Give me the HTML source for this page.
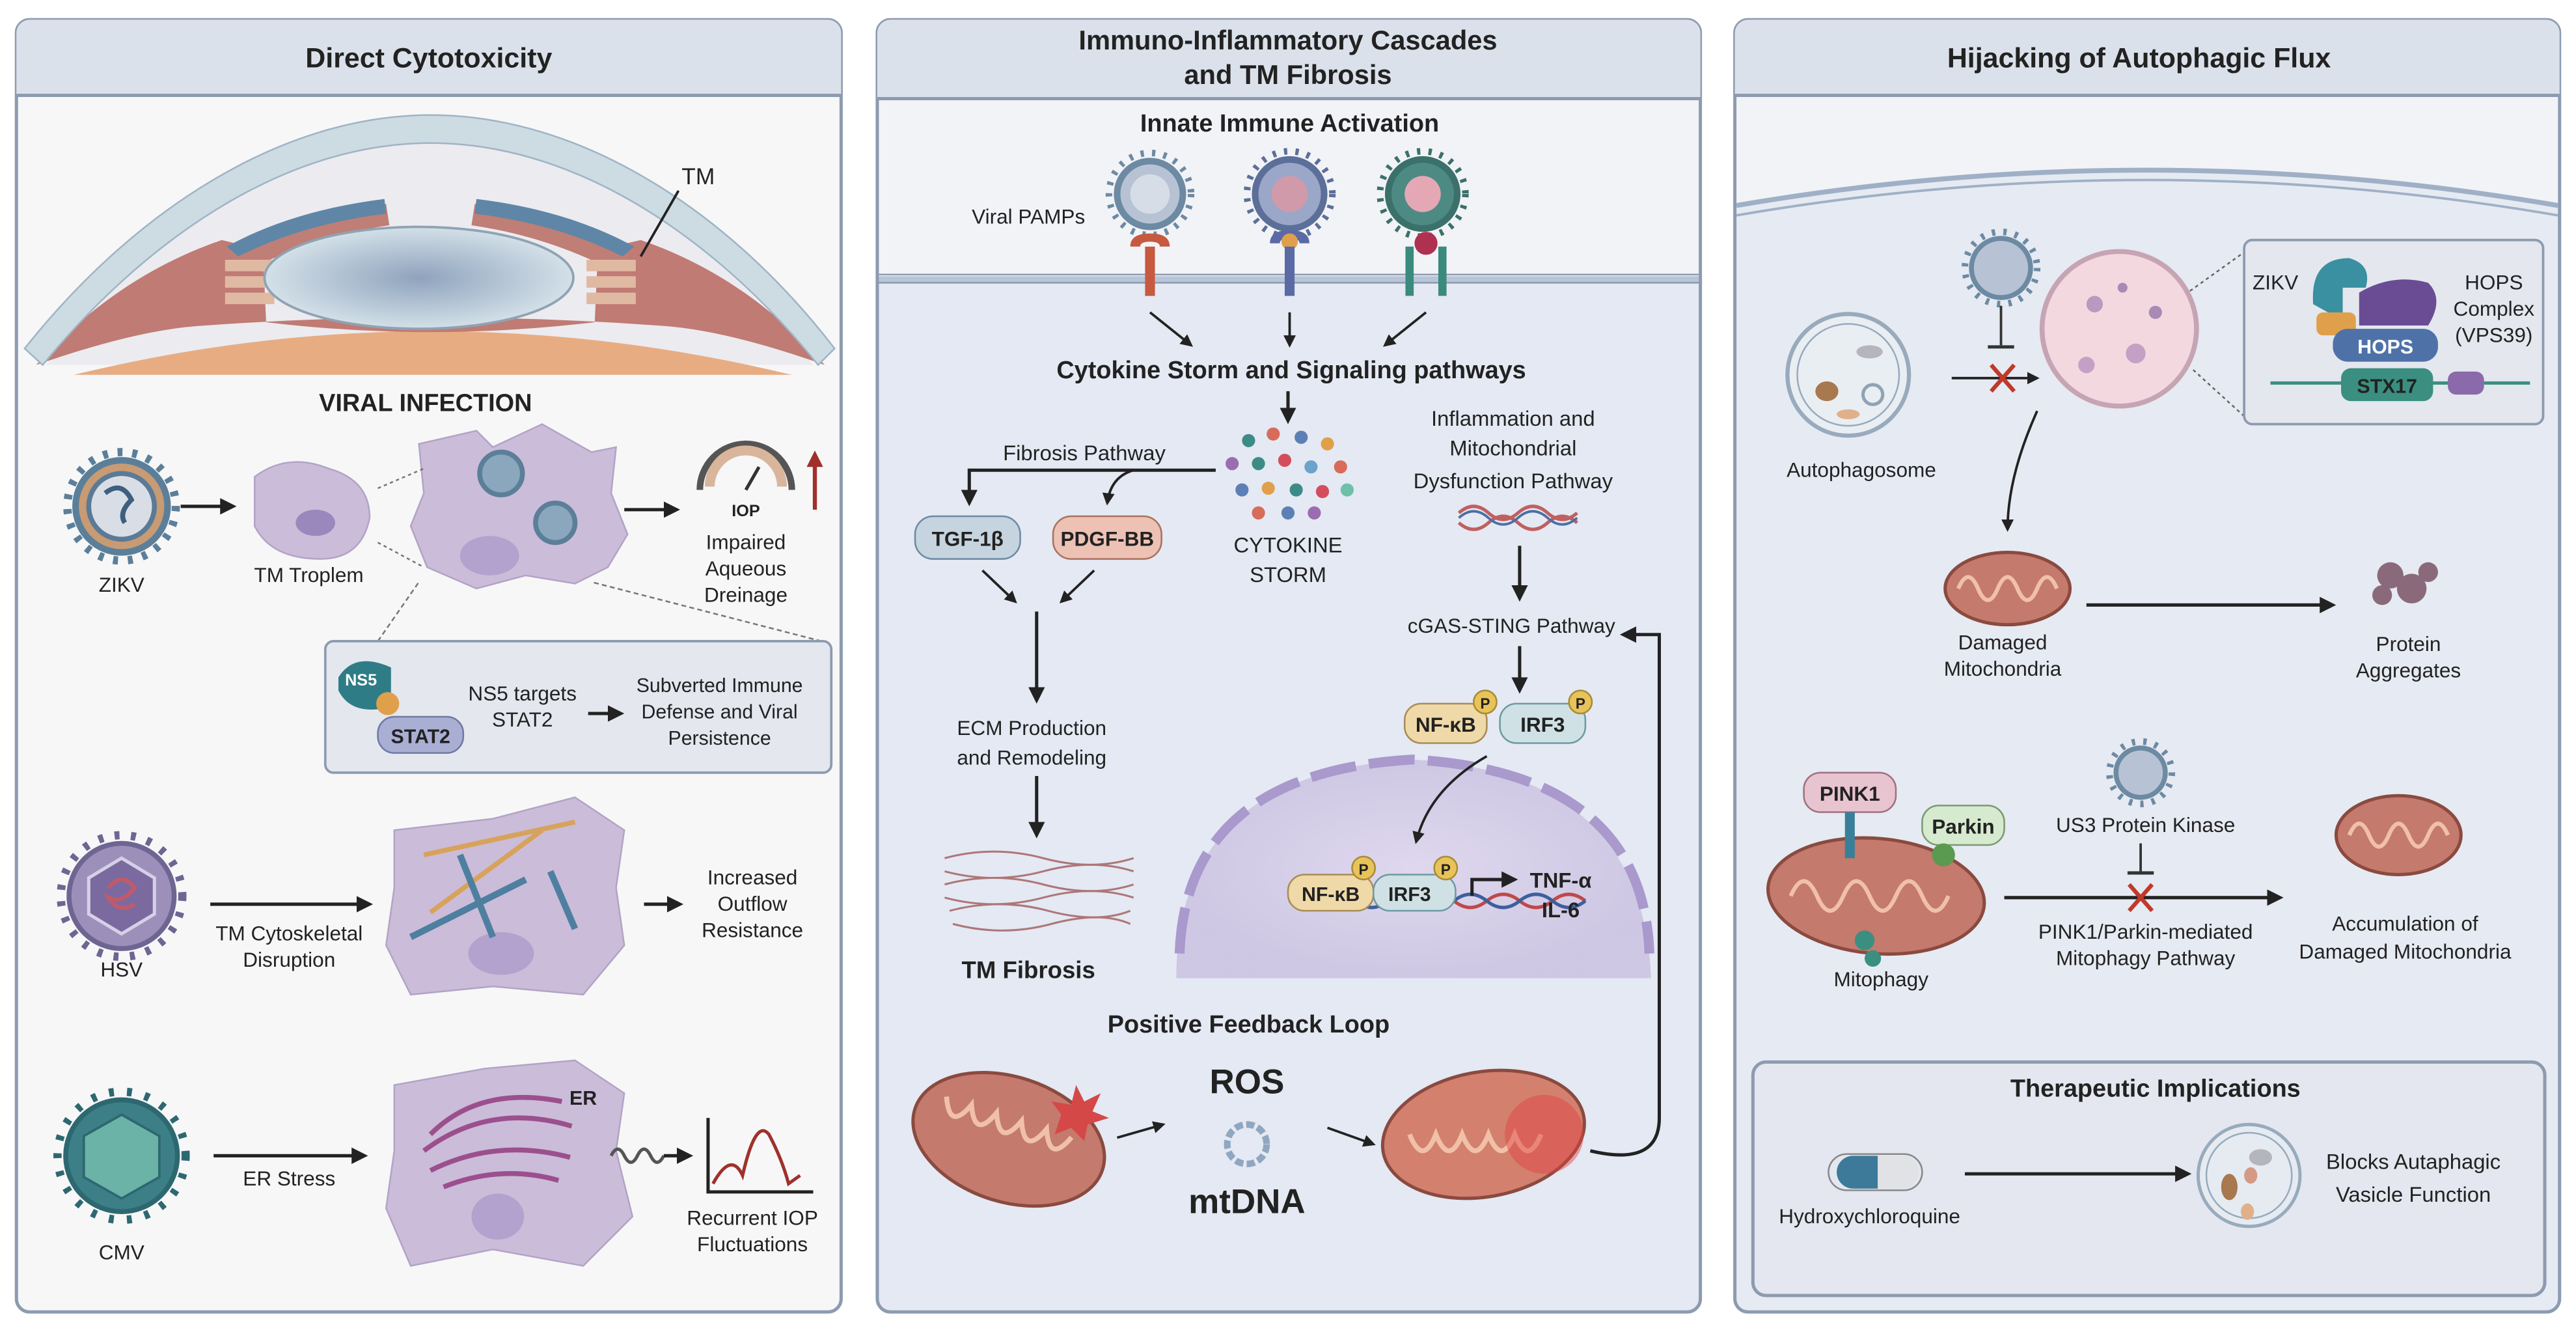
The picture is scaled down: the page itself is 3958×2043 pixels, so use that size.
<!DOCTYPE html>
<html><head><meta charset="utf-8"><style>
html,body{margin:0;padding:0;background:#fff;}
svg{display:block;}
text{font-family:"Liberation Sans",Arial,sans-serif;fill:#222;}
.b{font-weight:bold;}
</style></head><body>
<svg width="3958" height="2043" viewBox="0 0 1568 809" preserveAspectRatio="none" xmlns="http://www.w3.org/2000/svg">
<defs>
<marker id="ar" viewBox="0 0 10 10" refX="8" refY="5" markerWidth="5" markerHeight="5" orient="auto"><path d="M0,0L10,5L0,10z" fill="#222"/></marker>
<radialGradient id="lens"><stop offset="0" stop-color="#8fa3bd"/><stop offset="1" stop-color="#d3e0e8"/></radialGradient>
<radialGradient id="nuc"><stop offset="0" stop-color="#ddd3ec"/><stop offset="1" stop-color="#c8bfe0"/></radialGradient>
</defs>
<rect width="1568" height="809" fill="#fff"/>

<!-- ============ LEFT PANEL ============ -->
<rect x="10" y="12" width="502" height="786" rx="8" fill="#f7f7f8" stroke="#8d9bb0" stroke-width="2"/>
<path d="M10,58 V20 a8,8 0 0 1 8,-8 H504 a8,8 0 0 1 8,8 V58z" fill="#dbe1ea"/>
<line x1="10" y1="58" x2="512" y2="58" stroke="#8d9bb0" stroke-width="2"/>
<text x="261" y="41" font-size="17" text-anchor="middle" class="b">Direct Cytotoxicity</text>

<!-- eye -->
<path d="M28,222 C85,150 170,87 262,87 C355,87 440,150 495,222z" fill="#ecebf0"/>
<path d="M45,228 Q262,175 482,228z" fill="#e8ac82"/>
<path d="M22,222 C60,180 100,158 135,146 L160,152 L162,196 Q262,208 362,196 L364,152 L390,146 C425,158 465,180 502,222 Q440,200 400,198 Q262,188 125,198 Q85,200 22,222z" fill="#c07b74"/>
<path d="M15,212 C80,130 170,70 262,70 C355,70 445,130 508,212 L498,222 C440,150 355,87 262,87 C170,87 85,150 26,222z" fill="#cddbe3" stroke="#9fb4c4"/>
<path d="M138,152 Q180,130 235,124 L237,137 Q190,144 150,165z" fill="#bf7e76"/>
<path d="M138,150 Q178,128 234,121 L235,130 Q185,136 145,156z" fill="#5f86a6"/>
<path d="M386,152 Q344,130 289,124 L287,137 Q334,144 374,165z" fill="#bf7e76"/>
<path d="M386,150 Q346,128 290,121 L289,130 Q339,136 379,156z" fill="#5f86a6"/>
<g fill="#e0b9a3"><rect x="137" y="158" width="30" height="7"/><rect x="137" y="168" width="30" height="7"/><rect x="137" y="178" width="30" height="7"/><rect x="357" y="158" width="30" height="7"/><rect x="357" y="168" width="30" height="7"/><rect x="357" y="178" width="30" height="7"/></g>
<ellipse cx="255" cy="169" rx="94" ry="31" fill="url(#lens)" stroke="#8fa3b3" stroke-width="1.5"/>
<text x="425" y="112" font-size="14" text-anchor="middle">TM</text>
<line x1="413" y1="116" x2="390" y2="156" stroke="#222" stroke-width="1.5"/>

<text x="259" y="250" font-size="15" text-anchor="middle" class="b">VIRAL INFECTION</text>

<!-- ZIKV -->
<circle cx="74" cy="308" r="33" fill="none" stroke="#5c7f99" stroke-width="5" stroke-dasharray="3,6"/>
<circle cx="74" cy="308" r="28" fill="#c79b74" stroke="#5c7f99" stroke-width="4"/>
<circle cx="74" cy="308" r="20" fill="#d9dee6" stroke="#5b7a96" stroke-width="3"/>
<path d="M64,300 q10,-8 16,4 q-8,8 -4,14" fill="none" stroke="#3e5f80" stroke-width="3"/>
<text x="74" y="360" font-size="12.5" text-anchor="middle">ZIKV</text>
<line x1="110" y1="308" x2="142" y2="308" stroke="#222" stroke-width="2" marker-end="url(#ar)"/>
<path d="M155,290 Q175,275 200,285 Q225,292 225,315 Q220,340 195,340 Q165,340 155,320z" fill="#cbbcd9" stroke="#b2a4c6"/>
<ellipse cx="192" cy="318" rx="12" ry="8" fill="#9a88bd"/>
<text x="188" y="354" font-size="12.5" text-anchor="middle">TM Troplem</text>
<path d="M255,270 L290,262 L300,272 L330,258 L360,275 L375,272 L372,300 L382,325 L370,345 L350,355 L320,350 L290,358 L260,345 L250,320 L258,300z" fill="#cbbcd9" stroke="#b2a4c6"/>
<ellipse cx="298" cy="338" rx="18" ry="12" fill="#b3a2cd"/>
<circle cx="305" cy="288" r="13" fill="#8aa7bd" stroke="#5c7f99" stroke-width="3"/>
<circle cx="338" cy="318" r="12" fill="#8aa7bd" stroke="#5c7f99" stroke-width="3"/>
<line x1="230" y1="297" x2="258" y2="285" stroke="#777" stroke-dasharray="2,2"/>
<line x1="230" y1="330" x2="258" y2="345" stroke="#777" stroke-dasharray="2,2"/>
<line x1="380" y1="310" x2="412" y2="310" stroke="#222" stroke-width="2" marker-end="url(#ar)"/>
<path d="M426,298 A28,28 0 0 1 482,298" fill="none" stroke="#555" stroke-width="4"/>
<path d="M432,296 A22,22 0 0 1 476,296" fill="none" stroke="#d9b59c" stroke-width="6"/>
<line x1="454" y1="298" x2="462" y2="284" stroke="#333" stroke-width="2"/>
<text x="454" y="314" font-size="10" text-anchor="middle" class="b">IOP</text>
<line x1="496" y1="310" x2="496" y2="282" stroke="#a0302b" stroke-width="2.5"/>
<path d="M491,284 L496,274 L501,284z" fill="#a0302b"/>
<text x="454" y="334" font-size="12.5" text-anchor="middle">Impaired</text>
<text x="454" y="350" font-size="12.5" text-anchor="middle">Aqueous</text>
<text x="454" y="366" font-size="12.5" text-anchor="middle">Dreinage</text>
<line x1="230" y1="390" x2="255" y2="354" stroke="#777" stroke-dasharray="3,2"/>
<line x1="500" y1="390" x2="360" y2="354" stroke="#777" stroke-dasharray="3,2"/>
<rect x="198" y="390" width="308" height="80" rx="5" fill="#e4e7ee" stroke="#8d9bb0" stroke-width="1.5"/>
<path d="M206,412 q10,-16 32,-6 v24 q-24,6 -32,-10z" fill="#2e7c86"/>
<text x="210" y="417" font-size="10" class="b" style="fill:#fff">NS5</text>
<circle cx="236" cy="428" r="7" fill="#e0a04b"/>
<rect x="230" y="436" width="52" height="22" rx="10" fill="#a9aed3" stroke="#7078a6"/>
<text x="256" y="452" font-size="12" text-anchor="middle" class="b">STAT2</text>
<text x="318" y="426" font-size="12.5" text-anchor="middle">NS5 targets</text>
<text x="318" y="442" font-size="12.5" text-anchor="middle">STAT2</text>
<line x1="358" y1="434" x2="378" y2="434" stroke="#222" stroke-width="2" marker-end="url(#ar)"/>
<text x="438" y="421" font-size="12" text-anchor="middle">Subverted Immune</text>
<text x="438" y="437" font-size="12" text-anchor="middle">Defense and Viral</text>
<text x="438" y="453" font-size="12" text-anchor="middle">Persistence</text>

<!-- HSV -->
<circle cx="74" cy="545" r="37" fill="none" stroke="#6e6592" stroke-width="5" stroke-dasharray="3,7"/>
<circle cx="74" cy="545" r="32" fill="#9c8fba" stroke="#6e6592" stroke-width="3"/>
<polygon points="74,522 94,534 94,556 74,568 54,556 54,534" fill="#7a6aa0" stroke="#d6d0e6" stroke-width="2"/>
<path d="M66,540 q8,-10 16,0 q-8,10 -16,6 q6,10 16,4" fill="none" stroke="#c05a6a" stroke-width="2.5"/>
<text x="74" y="594" font-size="12.5" text-anchor="middle">HSV</text>
<line x1="128" y1="550" x2="225" y2="550" stroke="#222" stroke-width="2" marker-end="url(#ar)"/>
<text x="176" y="572" font-size="12.5" text-anchor="middle">TM Cytoskeletal</text>
<text x="176" y="588" font-size="12.5" text-anchor="middle">Disruption</text>
<path d="M240,505 L300,498 L350,485 L380,505 L375,540 L380,575 L355,605 L300,600 L250,605 L235,575 L240,540z" fill="#cbbcd9" stroke="#b2a4c6"/>
<ellipse cx="305" cy="580" rx="20" ry="13" fill="#b3a2cd"/>
<line x1="258" y1="520" x2="350" y2="500" stroke="#d7a35c" stroke-width="3"/>
<line x1="262" y1="555" x2="330" y2="505" stroke="#d7a35c" stroke-width="3"/>
<line x1="280" y1="520" x2="300" y2="570" stroke="#4e7fa0" stroke-width="4"/>
<line x1="250" y1="570" x2="320" y2="535" stroke="#4e7fa0" stroke-width="4"/>
<line x1="335" y1="530" x2="350" y2="565" stroke="#4e7fa0" stroke-width="4"/>
<line x1="392" y1="550" x2="414" y2="550" stroke="#222" stroke-width="2" marker-end="url(#ar)"/>
<text x="458" y="538" font-size="12.5" text-anchor="middle">Increased</text>
<text x="458" y="554" font-size="12.5" text-anchor="middle">Outflow</text>
<text x="458" y="570" font-size="12.5" text-anchor="middle">Resistance</text>

<!-- CMV -->
<circle cx="74" cy="703" r="39" fill="none" stroke="#2d6870" stroke-width="5" stroke-dasharray="3,8"/>
<circle cx="74" cy="703" r="34" fill="#3d7f86" stroke="#2d6870" stroke-width="3"/>
<polygon points="74,678 97,691 97,716 74,729 51,716 51,691" fill="#6bb3a7" stroke="#2d6870" stroke-width="1.5"/>
<text x="74" y="766" font-size="12.5" text-anchor="middle">CMV</text>
<line x1="130" y1="703" x2="222" y2="703" stroke="#222" stroke-width="2" marker-end="url(#ar)"/>
<text x="176" y="721" font-size="12.5" text-anchor="middle">ER Stress</text>
<path d="M240,660 L295,650 L350,645 L380,665 L375,700 L385,740 L355,770 L300,760 L250,770 L235,735 L240,700z" fill="#cbbcd9" stroke="#b2a4c6"/>
<path d="M262,690 q30,-30 80,-20 M258,700 q40,-30 90,-15 M262,712 q40,-20 85,-8 M270,722 q35,-14 70,-4" fill="none" stroke="#9c4f8d" stroke-width="3"/>
<ellipse cx="303" cy="740" rx="16" ry="14" fill="#b3a2cd"/>
<text x="355" y="672" font-size="12" class="b" text-anchor="middle">ER</text>
<path d="M372,703 q4,-8 8,0 q4,8 8,0 q4,-8 8,0 q4,8 8,0" fill="none" stroke="#555" stroke-width="2"/>
<line x1="404" y1="703" x2="420" y2="703" stroke="#222" stroke-width="2" marker-end="url(#ar)"/>
<polyline points="431,680 431,725 495,725" fill="none" stroke="#222" stroke-width="2"/>
<path d="M434,720 Q445,700 452,715 Q460,680 468,690 Q476,705 480,720 L487,715" fill="none" stroke="#a0302b" stroke-width="2"/>
<text x="458" y="745" font-size="12.5" text-anchor="middle">Recurrent IOP</text>
<text x="458" y="761" font-size="12.5" text-anchor="middle">Fluctuations</text>

<!-- ============ MIDDLE PANEL ============ -->
<rect x="534" y="12" width="501" height="786" rx="8" fill="#e4e9f3" stroke="#8d9bb0" stroke-width="2"/>
<path d="M534,60 V20 a8,8 0 0 1 8,-8 H1027 a8,8 0 0 1 8,8 V60z" fill="#dbe1ea"/>
<rect x="535" y="61" width="499" height="108" fill="#f2f3f7"/>
<line x1="534" y1="60" x2="1035" y2="60" stroke="#8d9bb0" stroke-width="2"/>
<text x="784" y="30" font-size="16.5" text-anchor="middle" class="b">Immuno-Inflammatory Cascades</text>
<text x="784" y="51" font-size="16.5" text-anchor="middle" class="b">and TM Fibrosis</text>
<text x="785" y="80" font-size="15" text-anchor="middle" class="b">Innate Immune Activation</text>
<rect x="535" y="168" width="499" height="4" fill="#b8c5d8"/>
<line x1="535" y1="172" x2="1034" y2="172" stroke="#8d9bb0"/>
<line x1="535" y1="167" x2="1034" y2="167" stroke="#8d9bb0"/>
<text x="626" y="136" font-size="12.5" text-anchor="middle">Viral PAMPs</text>
<circle cx="700" cy="118" r="25" fill="none" stroke="#6d8aa3" stroke-width="4" stroke-dasharray="2,5"/>
<circle cx="700" cy="118" r="20" fill="#b7c3d4" stroke="#6d8aa3" stroke-width="4"/>
<circle cx="700" cy="118" r="12" fill="#d6dde6"/>
<circle cx="785" cy="118" r="26" fill="none" stroke="#5c6f99" stroke-width="4" stroke-dasharray="2,5"/>
<circle cx="785" cy="118" r="21" fill="#9ba7c8" stroke="#5c6f99" stroke-width="4"/>
<circle cx="785" cy="118" r="11" fill="#d09aaa"/>
<circle cx="866" cy="118" r="26" fill="none" stroke="#3b706b" stroke-width="4" stroke-dasharray="2,5"/>
<circle cx="866" cy="118" r="21" fill="#4e8a84" stroke="#3b706b" stroke-width="4"/>
<circle cx="866" cy="118" r="11" fill="#e4a8b5"/>
<path d="M688,150 q0,-8 12,-8 q12,0 12,8 h-6 q0,-3 -6,-3 q-6,0 -6,3z" fill="#c6593f"/>
<rect x="697" y="150" width="6" height="30" fill="#c6593f"/>
<path d="M773,148 q0,-8 12,-8 q12,0 12,8 h-6 q0,-3 -6,-3 q-6,0 -6,3z" fill="#5b6aa5"/>
<circle cx="785" cy="147" r="5" fill="#e0a04b"/>
<rect x="782" y="150" width="6" height="30" fill="#5b6aa5"/>
<circle cx="868" cy="148" r="7" fill="#b03050"/>
<path d="M858,150 v30 M878,150 v30" stroke="#3b8a7e" stroke-width="5"/>
<line x1="700" y1="190" x2="725" y2="210" stroke="#222" stroke-width="1.5" marker-end="url(#ar)"/>
<line x1="785" y1="190" x2="785" y2="210" stroke="#222" stroke-width="1.5" marker-end="url(#ar)"/>
<line x1="868" y1="190" x2="843" y2="210" stroke="#222" stroke-width="1.5" marker-end="url(#ar)"/>
<text x="786" y="230" font-size="15" text-anchor="middle" class="b">Cytokine Storm and Signaling pathways</text>
<line x1="784" y1="238" x2="784" y2="256" stroke="#222" stroke-width="2" marker-end="url(#ar)"/>
<g>
<circle cx="760" cy="268" r="4" fill="#3d8b87"/><circle cx="775" cy="264" r="4" fill="#d86b5a"/><circle cx="792" cy="266" r="4" fill="#5c7fb5"/><circle cx="808" cy="270" r="4" fill="#e0a04b"/>
<circle cx="750" cy="282" r="4" fill="#9c6cb0"/><circle cx="766" cy="282" r="4" fill="#3d8b87"/><circle cx="782" cy="280" r="4" fill="#d44d5c"/><circle cx="798" cy="284" r="4" fill="#6ba3c9"/><circle cx="816" cy="284" r="4" fill="#d86b5a"/>
<circle cx="756" cy="298" r="4" fill="#5c7fb5"/><circle cx="772" cy="297" r="4" fill="#e0a04b"/><circle cx="789" cy="298" r="4" fill="#3d8b87"/><circle cx="805" cy="299" r="4" fill="#d44d5c"/><circle cx="820" cy="298" r="4" fill="#6fc0a8"/>
<circle cx="766" cy="312" r="4" fill="#d86b5a"/><circle cx="784" cy="312" r="4" fill="#5c7fb5"/><circle cx="800" cy="312" r="4" fill="#9c6cb0"/>
</g>
<text x="784" y="336" font-size="13" text-anchor="middle">CYTOKINE</text>
<text x="784" y="354" font-size="13" text-anchor="middle">STORM</text>
<text x="660" y="280" font-size="13" text-anchor="middle">Fibrosis Pathway</text>
<path d="M740,286 H590 V306" fill="none" stroke="#222" stroke-width="2" marker-end="url(#ar)"/>
<path d="M690,286 Q676,290 674,306" fill="none" stroke="#222" stroke-width="1.5" marker-end="url(#ar)"/>
<rect x="557" y="314" width="64" height="26" rx="11" fill="#c5d4de" stroke="#6d8aa3"/>
<text x="589" y="332" font-size="12.5" text-anchor="middle" class="b">TGF-1β</text>
<rect x="641" y="314" width="66" height="26" rx="11" fill="#edc2b5" stroke="#a9725f"/>
<text x="674" y="332" font-size="12.5" text-anchor="middle" class="b">PDGF-BB</text>
<line x1="598" y1="347" x2="618" y2="366" stroke="#222" stroke-width="1.5" marker-end="url(#ar)"/>
<line x1="666" y1="347" x2="646" y2="366" stroke="#222" stroke-width="1.5" marker-end="url(#ar)"/>
<line x1="631" y1="372" x2="631" y2="426" stroke="#222" stroke-width="2" marker-end="url(#ar)"/>
<text x="628" y="447" font-size="12.5" text-anchor="middle">ECM Production</text>
<text x="628" y="465" font-size="12.5" text-anchor="middle">and Remodeling</text>
<line x1="631" y1="472" x2="631" y2="508" stroke="#222" stroke-width="2" marker-end="url(#ar)"/>
<g stroke="#a05a5a" stroke-width="1.2" fill="none" opacity="0.8">
<path d="M575,522 q30,-8 60,0 t55,0"/><path d="M575,530 q30,8 60,0 t55,0"/><path d="M575,538 q30,-8 60,0 t55,0"/><path d="M575,546 q30,8 60,0 t55,0"/><path d="M578,554 q30,-8 60,0 t50,0"/><path d="M580,562 q30,8 60,0 t48,0"/>
</g>
<text x="626" y="595" font-size="14.5" text-anchor="middle" class="b">TM Fibrosis</text>
<text x="921" y="259" font-size="13" text-anchor="middle">Inflammation and</text>
<text x="921" y="277" font-size="13" text-anchor="middle">Mitochondrial</text>
<text x="921" y="297" font-size="13" text-anchor="middle">Dysfunction Pathway</text>
<path d="M888,312 q9,-8 18,0 t18,0 t18,0 t18,0 M888,318 q9,8 18,0 t18,0 t18,0 t18,0" fill="none" stroke="#c06060" stroke-width="2"/>
<path d="M888,315 q9,-8 18,0 t18,0 t18,0 t18,0" fill="none" stroke="#4a6fa5" stroke-width="1.5"/>
<line x1="925" y1="332" x2="925" y2="364" stroke="#222" stroke-width="2" marker-end="url(#ar)"/>
<text x="920" y="385" font-size="12.5" text-anchor="middle">cGAS-STING Pathway</text>
<line x1="925" y1="393" x2="925" y2="420" stroke="#222" stroke-width="2" marker-end="url(#ar)"/>
<!-- nucleus -->
<path d="M716,595 Q716,470 860,462 Q1000,470 1005,595z" fill="url(#nuc)" opacity="0.8"/>
<path d="M718,580 Q722,470 860,462 Q1000,470 1004,580" fill="none" stroke="#a999cc" stroke-width="6" stroke-dasharray="28,8"/>
<rect x="855" y="428" width="50" height="24" rx="10" fill="#f0d9a8" stroke="#a88c55"/>
<text x="880" y="445" font-size="12.5" text-anchor="middle" class="b">NF-κB</text>
<rect x="913" y="428" width="52" height="24" rx="10" fill="#cfe1e4" stroke="#6d9aa3"/>
<text x="939" y="445" font-size="12.5" text-anchor="middle" class="b">IRF3</text>
<circle cx="904" cy="427" r="7" fill="#e8c35a" stroke="#a88c35"/><text x="904" y="431" font-size="9" text-anchor="middle" class="b">P</text>
<circle cx="962" cy="427" r="7" fill="#e8c35a" stroke="#a88c35"/><text x="962" y="431" font-size="9" text-anchor="middle" class="b">P</text>
<path d="M905,460 Q870,480 862,512" fill="none" stroke="#222" stroke-width="1.5" marker-end="url(#ar)"/>
<path d="M785,548 q10,-8 20,0 t20,0 t20,0 t20,0 t20,0 t20,0 t20,0 t20,0 t20,0" fill="none" stroke="#c04848" stroke-width="2"/>
<path d="M785,548 q10,8 20,0 t20,0 t20,0 t20,0 t20,0 t20,0 t20,0 t20,0 t20,0" fill="none" stroke="#3d5f9c" stroke-width="2"/>
<rect x="784" y="532" width="52" height="22" rx="10" fill="#f0d9a8" stroke="#a88c55"/>
<text x="810" y="548" font-size="12" text-anchor="middle" class="b">NF-κB</text>
<rect x="836" y="532" width="50" height="22" rx="10" fill="#cfe1e4" stroke="#6d9aa3"/>
<text x="858" y="548" font-size="12" text-anchor="middle" class="b">IRF3</text>
<circle cx="830" cy="528" r="7" fill="#e8c35a" stroke="#a88c35"/><text x="830" y="532" font-size="9" text-anchor="middle" class="b">P</text>
<circle cx="880" cy="528" r="7" fill="#e8c35a" stroke="#a88c35"/><text x="880" y="532" font-size="9" text-anchor="middle" class="b">P</text>
<path d="M896,545 V535 H922" fill="none" stroke="#222" stroke-width="2" marker-end="url(#ar)"/>
<text x="950" y="540" font-size="13" text-anchor="middle" class="b">TNF-α</text>
<text x="950" y="558" font-size="13" text-anchor="middle" class="b">IL-6</text>
<text x="760" y="628" font-size="15" text-anchor="middle" class="b">Positive Feedback Loop</text>
<ellipse cx="614" cy="693" rx="60" ry="38" transform="rotate(18 614 693)" fill="#c47a6c" stroke="#8a4a40" stroke-width="2"/>
<path d="M570,680 q8,20 16,0 q8,20 16,0 q8,20 16,0 q8,20 16,0 q8,20 16,0" transform="rotate(18 614 693)" fill="none" stroke="#f0c0a8" stroke-width="3"/>
<polygon points="655,660 660,670 670,665 665,676 675,680 662,684 660,694 652,686 642,690 646,678 640,670 652,672" fill="#d44848"/>
<line x1="680" y1="692" x2="708" y2="684" stroke="#222" stroke-width="1.5" marker-end="url(#ar)"/>
<text x="759" y="665" font-size="21" text-anchor="middle" class="b">ROS</text>
<circle cx="759" cy="696" r="12" fill="none" stroke="#8fa7c0" stroke-width="4" stroke-dasharray="5,2"/>
<text x="759" y="738" font-size="21" text-anchor="middle" class="b">mtDNA</text>
<line x1="808" y1="686" x2="836" y2="696" stroke="#222" stroke-width="1.5" marker-end="url(#ar)"/>
<ellipse cx="903" cy="690" rx="62" ry="38" transform="rotate(-10 903 690)" fill="#d4806f" stroke="#8a4a40" stroke-width="2"/>
<path d="M858,690 q8,20 16,0 q8,20 16,0 q8,20 16,0 q8,20 16,0 q8,20 16,0" fill="none" stroke="#f0c0a8" stroke-width="3"/>
<circle cx="940" cy="690" r="24" fill="#e04040" opacity="0.45"/>
<path d="M968,700 Q1010,710 1010,680 V386 H988" fill="none" stroke="#222" stroke-width="2" marker-end="url(#ar)"/>

<!-- ============ RIGHT PANEL ============ -->
<rect x="1056" y="12" width="502" height="786" rx="8" fill="#e6eaf2" stroke="#8d9bb0" stroke-width="2"/>
<path d="M1056,58 V20 a8,8 0 0 1 8,-8 H1550 a8,8 0 0 1 8,8 V58z" fill="#dbe1ea"/>
<path d="M1057,59 H1557 V125 Q1307,82 1057,125z" fill="#f2f3f7"/>
<line x1="1056" y1="58" x2="1558" y2="58" stroke="#8d9bb0" stroke-width="2"/>
<path d="M1057,125 Q1307,82 1557,125" fill="none" stroke="#9fb0c6" stroke-width="3"/>
<path d="M1057,131 Q1307,88 1557,131" fill="none" stroke="#9fb0c6" stroke-width="1.5"/>
<text x="1302" y="41" font-size="17" text-anchor="middle" class="b">Hijacking of Autophagic Flux</text>
<circle cx="1125" cy="228" r="37" fill="#e9eef3" stroke="#98abbd" stroke-width="2.5"/>
<circle cx="1125" cy="228" r="31" fill="none" stroke="#98abbd"/>
<ellipse cx="1112" cy="238" rx="7" ry="6" fill="#a8784f"/><ellipse cx="1138" cy="214" rx="8" ry="4" fill="#b5b5bd"/><circle cx="1140" cy="240" r="6" fill="none" stroke="#8fa3b5" stroke-width="2"/><ellipse cx="1125" cy="252" rx="7" ry="3" fill="#e0b08a"/>
<text x="1133" y="290" font-size="12.5" text-anchor="middle">Autophagosome</text>
<circle cx="1218" cy="163" r="22" fill="none" stroke="#6d8aa3" stroke-width="4" stroke-dasharray="2,5"/>
<circle cx="1218" cy="163" r="18" fill="#b7c3d4" stroke="#6d8aa3" stroke-width="3"/>
<line x1="1218" y1="186" x2="1218" y2="210" stroke="#333" stroke-width="1.5"/>
<line x1="1210" y1="211" x2="1226" y2="211" stroke="#333" stroke-width="2"/>
<line x1="1188" y1="230" x2="1240" y2="230" stroke="#222" stroke-width="1.5" marker-end="url(#ar)"/>
<path d="M1212,222 L1226,238 M1226,222 L1212,238" stroke="#c0392b" stroke-width="2.5"/>
<circle cx="1290" cy="200" r="47" fill="#f3d8df" stroke="#c6a4b4" stroke-width="3"/>
<circle cx="1275" cy="185" r="5" fill="#b89ac0"/><circle cx="1300" cy="215" r="6" fill="#c4a0c6"/><circle cx="1312" cy="190" r="4" fill="#a98ab5"/><circle cx="1270" cy="222" r="5" fill="#c4a0c6"/><circle cx="1292" cy="175" r="3" fill="#a98ab5"/>
<line x1="1333" y1="177" x2="1368" y2="152" stroke="#666" stroke-dasharray="2,2"/>
<line x1="1335" y1="225" x2="1368" y2="255" stroke="#666" stroke-dasharray="2,2"/>
<rect x="1366" y="146" width="182" height="112" rx="5" fill="#e4e7ee" stroke="#8d9bb0" stroke-width="1.5"/>
<text x="1385" y="176" font-size="12.5" text-anchor="middle">ZIKV</text>
<path d="M1408,185 q-2,-28 22,-28 q14,4 10,18 h-14 v20z" fill="#3a8fa0"/>
<rect x="1410" y="190" width="24" height="14" rx="4" fill="#e0a04b"/>
<path d="M1436,178 q20,-12 42,-6 q10,10 0,26 h-42z" fill="#6a4c94"/>
<rect x="1420" y="200" width="64" height="20" rx="9" fill="#4e72a8"/>
<text x="1452" y="215" font-size="12" text-anchor="middle" class="b" style="fill:#fff">HOPS</text>
<line x1="1382" y1="233" x2="1540" y2="233" stroke="#3a8f80" stroke-width="2"/>
<rect x="1425" y="224" width="56" height="20" rx="6" fill="#3a8f80"/>
<text x="1453" y="239" font-size="12" text-anchor="middle" class="b">STX17</text>
<rect x="1490" y="226" width="22" height="14" rx="5" fill="#8a6aaa"/>
<text x="1518" y="176" font-size="12.5" text-anchor="middle">HOPS</text>
<text x="1518" y="192" font-size="12.5" text-anchor="middle">Complex</text>
<text x="1518" y="208" font-size="12.5" text-anchor="middle">(VPS39)</text>
<path d="M1240,250 Q1222,290 1222,322" fill="none" stroke="#222" stroke-width="1.5" marker-end="url(#ar)"/>
<ellipse cx="1222" cy="358" rx="38" ry="22" fill="#c47a6c" stroke="#8a4a40" stroke-width="2"/>
<path d="M1192,358 q6,-14 12,0 q6,14 12,0 q6,-14 12,0 q6,14 12,0 q6,-14 12,0" fill="none" stroke="#f0c0a8" stroke-width="2.5"/>
<text x="1219" y="395" font-size="12.5" text-anchor="middle">Damaged</text>
<text x="1219" y="411" font-size="12.5" text-anchor="middle">Mitochondria</text>
<line x1="1270" y1="368" x2="1420" y2="368" stroke="#222" stroke-width="2" marker-end="url(#ar)"/>
<g fill="#8a6a7a"><circle cx="1455" cy="350" r="8"/><circle cx="1468" cy="358" r="9"/><circle cx="1450" cy="362" r="6"/><circle cx="1478" cy="348" r="6"/></g>
<text x="1466" y="396" font-size="12.5" text-anchor="middle">Protein</text>
<text x="1466" y="412" font-size="12.5" text-anchor="middle">Aggregates</text>
<ellipse cx="1142" cy="545" rx="66" ry="35" transform="rotate(5 1142 545)" fill="#c47a6c" stroke="#8a4a40" stroke-width="2"/>
<path d="M1090,545 q8,-18 16,0 q8,18 16,0 q8,-18 16,0 q8,18 16,0 q8,-18 16,0 q8,18 16,0" fill="none" stroke="#f0c0a8" stroke-width="2.5"/>
<rect x="1098" y="470" width="56" height="24" rx="10" fill="#e8c3d0" stroke="#a07080"/>
<text x="1126" y="487" font-size="12.5" text-anchor="middle" class="b">PINK1</text>
<rect x="1123" y="494" width="6" height="28" fill="#3a7f9a"/>
<rect x="1170" y="490" width="50" height="24" rx="10" fill="#d6ead0" stroke="#7a9a70"/>
<text x="1195" y="507" font-size="12.5" text-anchor="middle" class="b">Parkin</text>
<circle cx="1183" cy="520" r="7" fill="#5a9a50"/>
<circle cx="1135" cy="572" r="6" fill="#3a8f80"/><circle cx="1140" cy="583" r="5" fill="#3a8f80"/>
<text x="1145" y="600" font-size="12.5" text-anchor="middle">Mitophagy</text>
<circle cx="1303" cy="470" r="19" fill="none" stroke="#6d8aa3" stroke-width="4" stroke-dasharray="2,5"/>
<circle cx="1303" cy="470" r="15" fill="#b7c3d4" stroke="#6d8aa3" stroke-width="3"/>
<text x="1306" y="506" font-size="12.5" text-anchor="middle">US3 Protein Kinase</text>
<line x1="1303" y1="513" x2="1303" y2="530" stroke="#333" stroke-width="1.5"/>
<line x1="1295" y1="531" x2="1311" y2="531" stroke="#333" stroke-width="2"/>
<line x1="1220" y1="546" x2="1388" y2="546" stroke="#222" stroke-width="2" marker-end="url(#ar)"/>
<path d="M1296,538 L1310,554 M1310,538 L1296,554" stroke="#c0392b" stroke-width="2.5"/>
<text x="1306" y="571" font-size="12.5" text-anchor="middle">PINK1/Parkin-mediated</text>
<text x="1306" y="587" font-size="12.5" text-anchor="middle">Mitophagy Pathway</text>
<ellipse cx="1460" cy="508" rx="38" ry="24" fill="#c47a6c" stroke="#8a4a40" stroke-width="2"/>
<path d="M1430,508 q6,-14 12,0 q6,14 12,0 q6,-14 12,0 q6,14 12,0 q6,-14 12,0" fill="none" stroke="#f0c0a8" stroke-width="2.5"/>
<text x="1464" y="566" font-size="12.5" text-anchor="middle">Accumulation of</text>
<text x="1464" y="583" font-size="12.5" text-anchor="middle">Damaged Mitochondria</text>
<rect x="1067" y="646" width="482" height="142" rx="8" fill="#e4e7ef" stroke="#8d9bb0" stroke-width="2"/>
<text x="1312" y="667" font-size="15" text-anchor="middle" class="b">Therapeutic Implications</text>
<path d="M1128,703 h15 v20 h-15 a10,10 0 0 1 0,-20z" fill="#3d7a99"/>
<path d="M1143,703 h15 a10,10 0 0 1 0,20 h-15z" fill="#e0e2e6"/>
<rect x="1113" y="702" width="57" height="22" rx="11" fill="none" stroke="#888"/>
<text x="1138" y="744" font-size="12.5" text-anchor="middle">Hydroxychloroquine</text>
<line x1="1196" y1="714" x2="1332" y2="714" stroke="#222" stroke-width="2" marker-end="url(#ar)"/>
<circle cx="1369" cy="715" r="31" fill="#e6ebf2" stroke="#98abbd" stroke-width="2"/>
<circle cx="1369" cy="715" r="26" fill="none" stroke="#98abbd"/>
<ellipse cx="1357" cy="722" rx="5" ry="8" fill="#a8784f"/><ellipse cx="1376" cy="704" rx="7" ry="5" fill="#b5b5bd"/><ellipse cx="1368" cy="737" rx="4" ry="5" fill="#e0b08a"/><ellipse cx="1370" cy="715" rx="4" ry="5" fill="#d59a85"/>
<text x="1469" y="711" font-size="13" text-anchor="middle">Blocks Autaphagic</text>
<text x="1469" y="731" font-size="13" text-anchor="middle">Vasicle Function</text>
</svg>
</body></html>
